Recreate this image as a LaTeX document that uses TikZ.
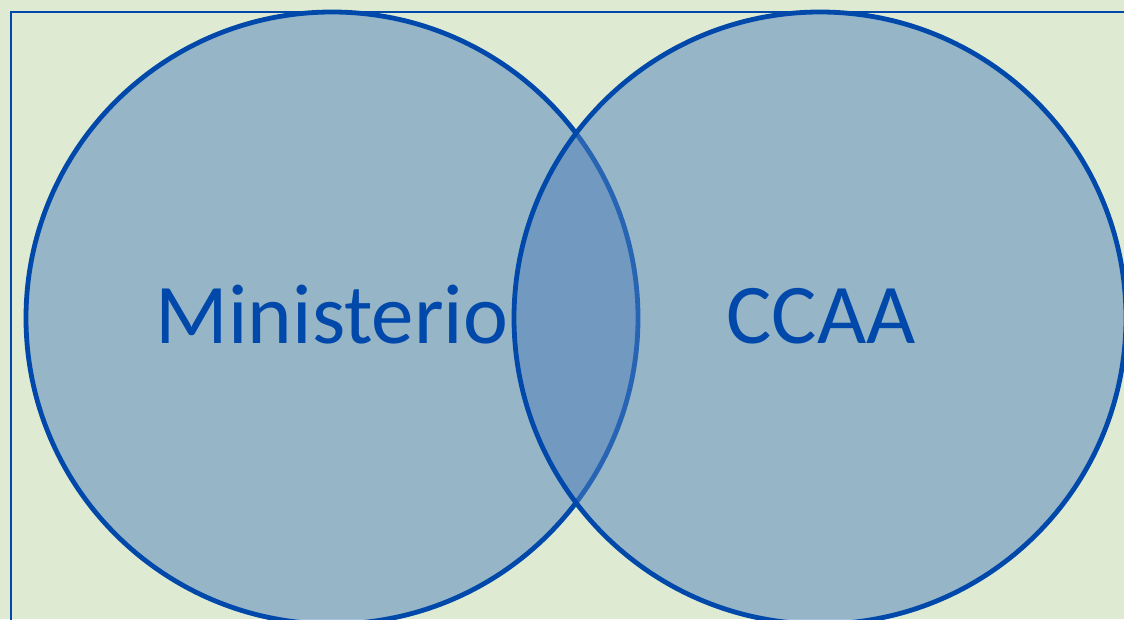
\documentclass[tikz,border=0pt]{standalone}
\usepackage{fontspec}
\setmainfont{Carlito}
\definecolor{bgc}{RGB}{222,234,210}
\definecolor{circfill}{RGB}{79,129,189}
\definecolor{edge}{RGB}{0,72,170}
\tikzset{
  venn/.style={draw=edge, line width=4.8pt, fill=circfill, fill opacity=0.5, draw opacity=1},
  lbl/.style={text=edge, font=\fontsize{85}{100}\selectfont, anchor=base, inner sep=0pt}
}
\begin{document}
\begin{tikzpicture}[x=1pt,y=-1pt]
\useasboundingbox (0,0) rectangle (1124,619);
\begin{scope}
\clip (0,0) rectangle (1124,619);
\fill[bgc] (0,0) rectangle (1124,619);
\draw[edge, line width=2pt] (11,12) rectangle (1140,640);
\node[venn, circle, minimum size=612pt, inner sep=0pt] (left) at (332,318) {};
\node[venn, circle, minimum size=612pt, inner sep=0pt] (right) at (820,318) {};
\end{scope}
\node[lbl] (min) at (332,343) {Ministerio};
\node[lbl] (ccaa) at (821,343) {CCAA};
\end{tikzpicture}
\end{document}
